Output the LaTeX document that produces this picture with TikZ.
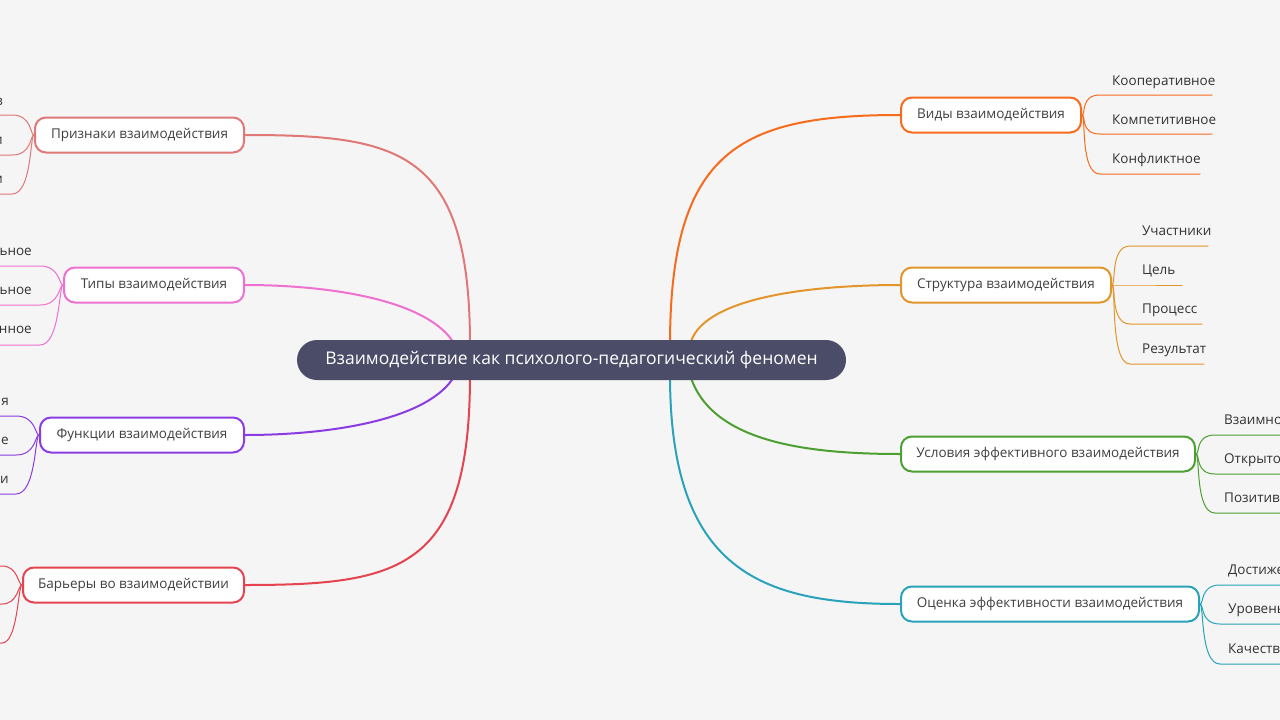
\documentclass[tikz,border=0pt]{standalone}
\usepackage{fontspec}
\setmainfont{Open Sans}
\usetikzlibrary{positioning}
\definecolor{bg}{HTML}{F5F5F5}
\definecolor{hub}{HTML}{4B4D68}
\definecolor{cOrange}{HTML}{F76B1C}
\definecolor{cAmber}{HTML}{E2952B}
\definecolor{cGreen}{HTML}{4C9F30}
\definecolor{cTeal}{HTML}{2AA2B9}
\definecolor{cRose}{HTML}{E07878}
\definecolor{cPink}{HTML}{EE70D0}
\definecolor{cPurple}{HTML}{8A3CE2}
\definecolor{cRed}{HTML}{E5434F}

\begin{document}
\begin{tikzpicture}[x=1pt,y=-1pt,line cap=round,
  topic/.style={draw=#1,line width=2pt,fill=white,rounded corners=11pt,minimum height=35pt,
    font=\fontsize{13.5}{15}\selectfont,text=black!75,anchor=west},
  leaf/.style={font=\fontsize{13.5}{15}\selectfont,text=black!80,inner sep=0pt,anchor=base west},
  trunk/.style={draw=#1,line width=2pt},
  twig/.style={draw=#1,line width=1pt}]
  \fill[bg] (0,0) rectangle (1280,720);
  \clip (0,0) rectangle (1280,720);

  % main topics
  \node[topic=cRose,   minimum width=209pt] (sign)  at (34,135)  {Признаки взаимодействия};
  \node[topic=cPink,   minimum width=180pt] (types) at (63,285)  {Типы взаимодействия};
  \node[topic=cPurple, minimum width=204pt] (func)  at (39,435)  {Функции взаимодействия};
  \node[topic=cRed,    minimum width=221pt] (bar)   at (22,585)  {Барьеры во взаимодействии};
  \node[topic=cOrange, minimum width=180pt] (kinds) at (900,115) {Виды взаимодействия};
  \node[topic=cAmber,  minimum width=210pt] (struct) at (900,285) {Структура взаимодействия};
  \node[topic=cGreen,  minimum width=294pt] (cond)  at (900,454) {Условия эффективного взаимодействия};
  \node[topic=cTeal,   minimum width=298pt] (eval)  at (900,604) {Оценка эффективности взаимодействия};

  % trunks
  \draw[trunk=cRose]   (470,345) .. controls (470,150) and (400,135) .. (sign.east);
  \draw[trunk=cPink]   (455,345) .. controls (430,300) and (330,285) .. (types.east);
  \draw[trunk=cPurple] (455,375) .. controls (430,420) and (330,435) .. (func.east);
  \draw[trunk=cRed]    (470,375) .. controls (470,570) and (400,585) .. (bar.east);
  \draw[trunk=cOrange] (670,345) .. controls (670,150) and (740,115) .. (kinds.west);
  \draw[trunk=cAmber]  (690,345) .. controls (700,300) and (800,285) .. (struct.west);
  \draw[trunk=cGreen]  (690,375) .. controls (710,440) and (800,454) .. (cond.west);
  \draw[trunk=cTeal]   (670,375) .. controls (670,570) and (760,604) .. (eval.west);

  % center
  \node[fill=hub,rounded corners=20pt,minimum width=549pt,minimum height=40pt,text=white,
    font=\fontsize{17.5}{20}\selectfont] (hubnode) at (571.5,360) {Взаимодействие как психолого-педагогический феномен};

  % right leaves
  \node[leaf] (k1) at (1112,85)  {Кооперативное};
  \node[leaf] (k2) at (1112,124) {Компетитивное};
  \node[leaf] (k3) at (1112,163) {Конфликтное};
  \draw[twig=cOrange] (kinds.east) .. controls +(4,0) and +(-20,0) .. (1100,95) -- (1212,95);
  \draw[twig=cOrange] (kinds.east) .. controls +(4,0) and +(-20,0) .. (1100,134) -- (1212,134);
  \draw[twig=cOrange] (kinds.east) .. controls +(4,0) and +(-20,0) .. (1100,174) -- (1200,174);

  \node[leaf] (s1) at (1142,235) {Участники};
  \node[leaf] (s2) at (1142,274) {Цель};
  \node[leaf] (s3) at (1142,313) {Процесс};
  \node[leaf] (s4) at (1142,353) {Результат};
  \draw[twig=cAmber] (struct.east) .. controls +(4,0) and +(-20,0) .. (1130,246) -- (1208,246);
  \draw[twig=cAmber] (struct.east) .. controls +(4,0) and +(-20,0) .. (1130,285) -- (1182,285);
  \draw[twig=cAmber] (struct.east) .. controls +(4,0) and +(-20,0) .. (1130,324) -- (1202,324);
  \draw[twig=cAmber] (struct.east) .. controls +(4,0) and +(-20,0) .. (1130,364) -- (1204,364);

  \node[leaf] (c1) at (1224,424) {Взаимно};
  \node[leaf] (c2) at (1224,463) {Открыто};
  \node[leaf] (c3) at (1224,502) {Позитив};
  \draw[twig=cGreen] (cond.east) .. controls +(4,0) and +(-20,0) .. (1215,435) -- (1280,435);
  \draw[twig=cGreen] (cond.east) .. controls +(4,0) and +(-20,0) .. (1215,474) -- (1280,474);
  \draw[twig=cGreen] (cond.east) .. controls +(4,0) and +(-20,0) .. (1215,513) -- (1280,513);

  \node[leaf] (e1) at (1228,574) {Достиже};
  \node[leaf] (e2) at (1228,613) {Уровень};
  \node[leaf] (e3) at (1228,653) {Качеств};
  \draw[twig=cTeal] (eval.east) .. controls +(4,0) and +(-20,0) .. (1220,585) -- (1280,585);
  \draw[twig=cTeal] (eval.east) .. controls +(4,0) and +(-20,0) .. (1220,624) -- (1280,624);
  \draw[twig=cTeal] (eval.east) .. controls +(4,0) and +(-20,0) .. (1220,664) -- (1280,664);

  % left leaves
  \node[leaf,anchor=base east] (p1) at (3,105)  {в};
  \node[leaf,anchor=base east] (p2) at (3,144)  {и};
  \node[leaf,anchor=base east] (p3) at (3,183)  {м};
  \draw[twig=cRose] (sign.west) .. controls +(-4,0) and +(20,0) .. (12,115) -- (0,115);
  \draw[twig=cRose] (sign.west) .. controls +(-4,0) and +(20,0) .. (12,155) -- (0,155);
  \draw[twig=cRose] (sign.west) .. controls +(-4,0) and +(20,0) .. (12,194) -- (0,194);

  \node[leaf,anchor=base east] (t1) at (32,255) {льное};
  \node[leaf,anchor=base east] (t2) at (32,294) {льное};
  \node[leaf,anchor=base east] (t3) at (32,333) {нное};
  \draw[twig=cPink] (types.west) .. controls +(-4,0) and +(20,0) .. (40,266) -- (0,266);
  \draw[twig=cPink] (types.west) .. controls +(-4,0) and +(20,0) .. (40,305) -- (0,305);
  \draw[twig=cPink] (types.west) .. controls +(-4,0) and +(20,0) .. (40,345) -- (0,345);

  \node[leaf,anchor=base east] (f1) at (9,405) {ия};
  \node[leaf,anchor=base east] (f2) at (9,444) {ие};
  \node[leaf,anchor=base east] (f3) at (9,483) {и};
  \draw[twig=cPurple] (func.west) .. controls +(-4,0) and +(20,0) .. (16,416) -- (0,416);
  \draw[twig=cPurple] (func.west) .. controls +(-4,0) and +(20,0) .. (16,455) -- (0,455);
  \draw[twig=cPurple] (func.west) .. controls +(-4,0) and +(20,0) .. (16,494) -- (0,494);

  \draw[twig=cRed] (bar.west) .. controls +(-4,0) and +(16,0) .. (2,566) -- (0,566);
  \draw[twig=cRed] (bar.west) .. controls +(-4,0) and +(16,0) .. (2,604) -- (0,604);
  \draw[twig=cRed] (bar.west) .. controls +(-4,0) and +(16,0) .. (2,643) -- (0,643);
\end{tikzpicture}
\end{document}
